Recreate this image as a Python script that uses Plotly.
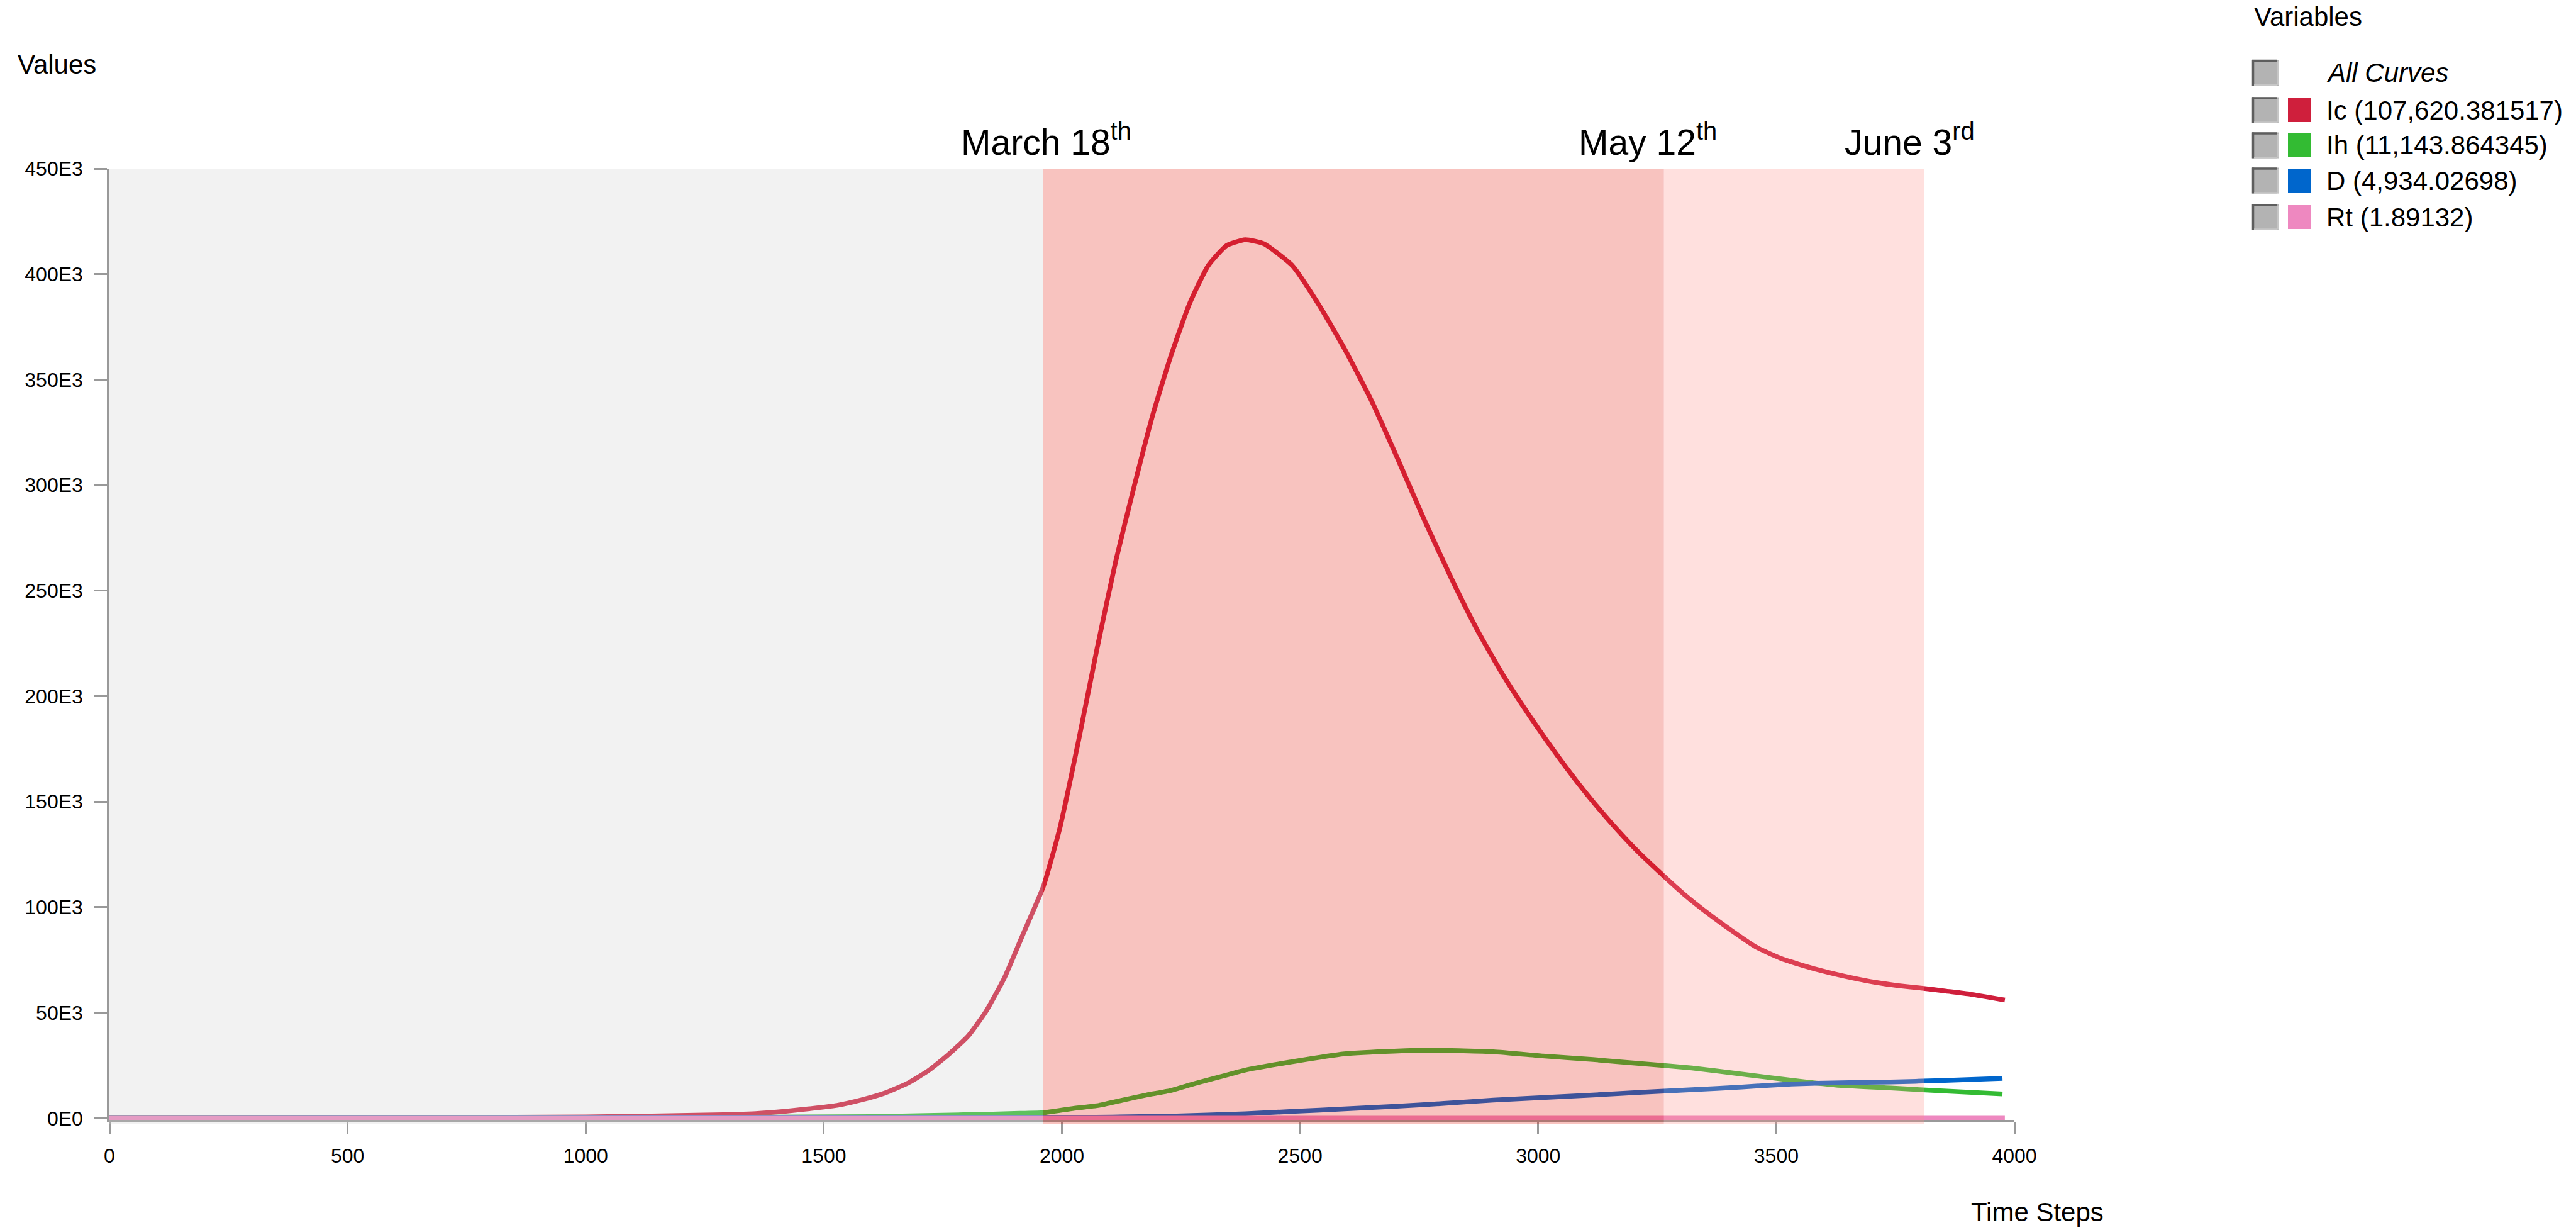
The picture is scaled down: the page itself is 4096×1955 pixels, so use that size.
import plotly.graph_objects as go

# ---------------- data ----------------
ic_t = [0, 500, 1000, 1250, 1357, 1420, 1470, 1528, 1578, 1628, 1678, 1720, 1761, 1803, 1840, 1879,
        1918, 1961, 1996, 2035, 2074, 2113, 2152, 2190, 2229, 2268, 2307, 2346, 2385, 2424, 2484,
        2540, 2595, 2651, 2706, 2762, 2818, 2873, 2929, 2984, 3040, 3095, 3151, 3207, 3265, 3307,
        3357, 3407, 3457, 3507, 3557, 3607, 3657, 3707, 3757, 3807, 3857, 3907, 3980]
ic_v = [100, 200, 600, 1500, 2200, 3300, 4500, 6100, 8600, 11900, 16800, 22600, 30000, 38900, 50400, 66400,
        87000, 109800, 137800, 179000, 222800, 264000, 299700, 332700, 361400, 386000, 404000, 413600, 416300, 414400, 404000,
        385300, 364000, 339600, 312000, 283000, 255700, 231000, 209000, 190000, 172000, 155600, 140500, 126900, 114500, 106000,
        97000, 88800, 81200, 76000, 72300, 69200, 66600, 64400, 62800, 61600, 60200, 58800, 56000]

ih_t = [0, 1000, 1600, 1803, 1911, 1961, 2020, 2078, 2128, 2178, 2228, 2278, 2320, 2361, 2385, 2490,
        2593, 2698, 2782, 2906, 3010, 3115, 3219, 3323, 3428, 3532, 3636, 3740, 3845, 3975]
ih_v = [0, 200, 800, 1700, 2300, 2600, 4500, 6100, 8600, 11000, 13100, 16400, 18900, 21400, 22800, 27000,
        30500, 31800, 32200, 31500, 29500, 27800, 25800, 23800, 20900, 18000, 15500, 14300, 13000, 11500]

d_t = [0, 2000, 2230, 2385, 2490, 2593, 2698, 2802, 2906, 3010, 3115, 3219, 3323, 3428, 3532, 3636, 3740, 3845, 3975]
d_v = [0, 300, 1000, 2100, 3300, 4400, 5600, 7000, 8600, 9800, 11000, 12300, 13500, 14800, 16200, 16800, 17200, 17800, 18900]

rt_t = [0, 1000, 2000, 3000, 3980]
rt_v = [1.9, 1.9, 1.9, 1.9, 1.9]

series_names = ["Ic", "Ih", "D", "Rt"]
legend_labels = ["Ic (107,620.381517)", "Ih (11,143.864345)", "D (4,934.02698)", "Rt (1.89132)"]
series_colors = ["#CF1F3C", "#33BB33", "#0066CC", "#EE88C0"]

x_ticks = [0, 500, 1000, 1500, 2000, 2500, 3000, 3500, 4000]
y_ticks = [0, 50000, 100000, 150000, 200000, 250000, 300000, 350000, 400000, 450000]
y_tick_text = ["0E0", "50E3", "100E3", "150E3", "200E3", "250E3", "300E3", "350E3", "400E3", "450E3"]

period_bounds = [0, 1960, 3264, 3810]
period_labels = ["March 18<sup>th</sup>", "May 12<sup>th</sup>", "June 3<sup>rd</sup>"]

# ---------------- layout geometry (pixels) ----------------
W, H = 4096, 1955
L, R, T, B = 174, 893, 268, 175
PW, PH = W - L - R, H - T - B
FONT = "Liberation Sans, Arial, Helvetica, sans-serif"


def px(x):
    return (x - L) / PW


def py(y):
    return (H - B - y) / PH


fig = go.Figure()
for t, v, name, col in zip([ic_t, ih_t, d_t, rt_t], [ic_v, ih_v, d_v, rt_v], series_names, series_colors):
    fig.add_trace(go.Scatter(x=t, y=v, name=name, mode="lines",
                             line=dict(color=col, width=7.5, shape="spline", smoothing=0.5),
                             showlegend=False, hoverinfo="skip"))

# shaded periods, drawn over the curves
shade_fills = ["rgba(208,208,208,0.28)", "rgba(229,33,18,0.27)", "rgba(255,144,137,0.28)"]
for i in range(3):
    fig.add_shape(type="rect", xref="x", yref="paper", x0=period_bounds[i], x1=period_bounds[i + 1],
                  y0=-0.004, y1=1, fillcolor=shade_fills[i], line=dict(width=0), layer="above")

annotations = []
label_shift = [5, -26, -23]
for i in range(3):
    annotations.append(dict(x=period_bounds[i + 1], xref="x", y=1, yref="paper", text=period_labels[i],
                            showarrow=False, xanchor="center", yanchor="bottom", xshift=label_shift[i], yshift=8,
                            font=dict(family=FONT, size=57, color="black")))

annotations.append(dict(x=px(26), y=py(103), xref="paper", yref="paper", text="Values", showarrow=False,
                        xanchor="left", yanchor="middle", font=dict(family=FONT, size=42, color="black")))
annotations.append(dict(x=px(3240), y=py(1926), xref="paper", yref="paper", text="Time Steps", showarrow=False,
                        xanchor="center", yanchor="middle", font=dict(family=FONT, size=42, color="black")))

# legend (drawn manually)
annotations.append(dict(x=px(3582), y=py(27), xref="paper", yref="paper", text="Variables", showarrow=False,
                        xanchor="left", yanchor="middle", font=dict(family=FONT, size=42, color="black")))
row_y = [115.5, 175, 231, 287, 345]
row_text = ["<i>All Curves</i>"] + legend_labels
row_col = [None] + series_colors
for yy, txt, col in zip(row_y, row_text, row_col):
    # checkbox
    fig.add_shape(type="rect", xref="paper", yref="paper", x0=px(3581), x1=px(3623), y0=py(yy + 20.5), y1=py(yy - 20.5),
                  fillcolor="#b3b3b3", line=dict(width=0), layer="above")
    fig.add_shape(type="line", xref="paper", yref="paper", x0=px(3582.5), x1=px(3582.5), y0=py(yy + 20.5), y1=py(yy - 20.5),
                  line=dict(color="#5e5e5e", width=3.5), layer="above")
    fig.add_shape(type="line", xref="paper", yref="paper", x0=px(3581), x1=px(3621), y0=py(yy - 19), y1=py(yy - 19),
                  line=dict(color="#5e5e5e", width=3.5), layer="above")
    fig.add_shape(type="line", xref="paper", yref="paper", x0=px(3584), x1=px(3621), y0=py(yy + 19.5), y1=py(yy + 19.5),
                  line=dict(color="#c6c6c6", width=2.5), layer="above")
    fig.add_shape(type="line", xref="paper", yref="paper", x0=px(3622), x1=px(3622), y0=py(yy + 19.5), y1=py(yy - 18),
                  line=dict(color="#c6c6c6", width=2.5), layer="above")
    if col is not None:
        fig.add_shape(type="rect", xref="paper", yref="paper", x0=px(3638), x1=px(3675), y0=py(yy + 19), y1=py(yy - 19),
                      fillcolor=col, line=dict(width=0), layer="above")
    annotations.append(dict(x=px(3697), y=py(yy), xref="paper", yref="paper", text=txt, showarrow=False,
                            xanchor="left", yanchor="middle", font=dict(family=FONT, size=42, color="black")))

fig.update_layout(
    width=W, height=H, margin=dict(l=L, r=R, t=T, b=B, autoexpand=False),
    paper_bgcolor="white", plot_bgcolor="white",
    font=dict(family=FONT, color="black"),
    annotations=annotations, showlegend=False,
)
fig.update_xaxes(range=[0, 4000], tickvals=x_ticks, ticktext=[str(v) for v in x_ticks],
                 showgrid=False, zeroline=False, showline=True, linecolor="#999999", linewidth=3.5,
                 ticks="outside", ticklen=18, tickwidth=3, tickcolor="#999999",
                 tickfont=dict(family=FONT, size=32, color="black"), ticklabelstandoff=8)
fig.update_yaxes(range=[-800, 450000], tickvals=y_ticks, ticktext=y_tick_text,
                 showgrid=False, zeroline=False, showline=True, linecolor="#999999", linewidth=3.5,
                 ticks="outside", ticklen=20, tickwidth=3, tickcolor="#999999",
                 tickfont=dict(family=FONT, size=32, color="black"), ticklabelstandoff=12)

fig.write_html("out.html", config={"displayModeBar": False},
               post_script="document.body.style.margin='0';document.body.style.overflow='hidden';")
